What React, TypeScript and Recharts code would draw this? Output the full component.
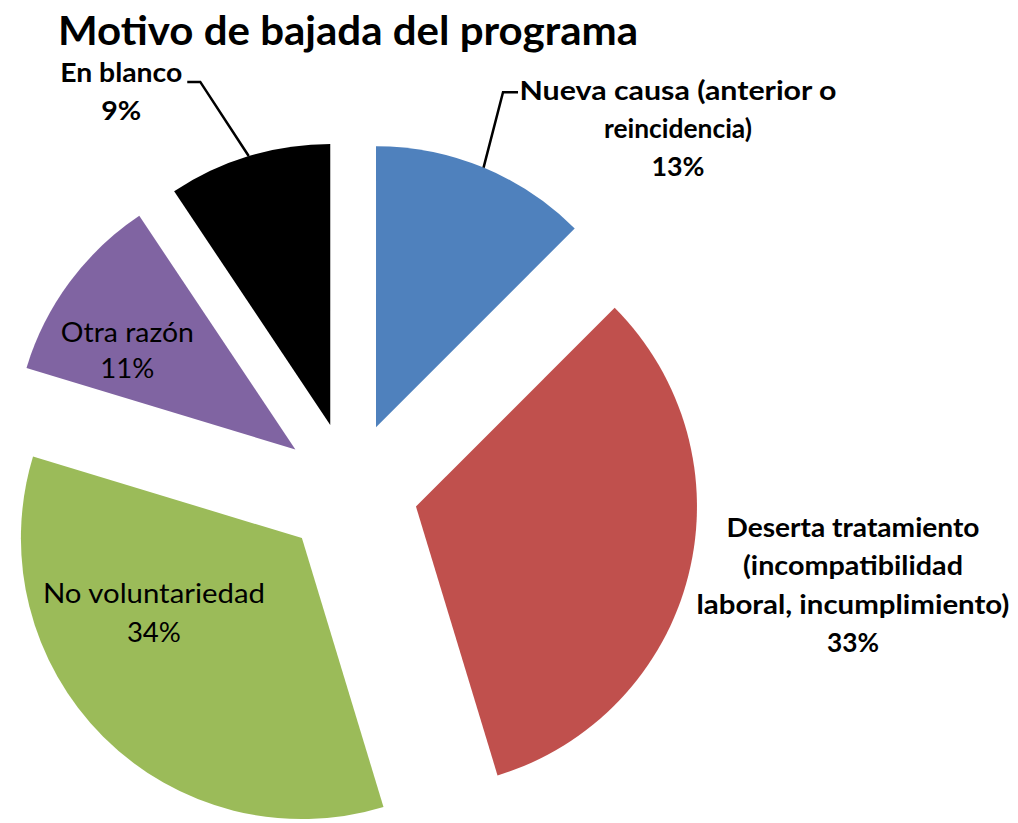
import React from "react";
import { PieChart, Pie, Cell } from "recharts";

// ---------- data ----------
const categories = [
  "Nueva causa (anterior o reincidencia)",
  "Deserta tratamiento (incompatibilidad laboral, incumplimiento)",
  "No voluntariedad",
  "Otra razón",
  "En blanco",
];
const labelLines = [
  ["Nueva causa (anterior o", "reincidencia)"],
  ["Deserta tratamiento", "(incompatibilidad", "laboral, incumplimiento)"],
  ["No voluntariedad"],
  ["Otra razón"],
  ["En blanco"],
];
const counts = [8, 21, 22, 7, 6];
const colors = ["#4F81BD", "#C0504D", "#9BBB59", "#8064A2", "#000000"];
const title = "Motivo de bajada del programa";

const data = categories.map((name, i) => ({ name, value: counts[i] }));

// ---------- layout ----------
const W = 1018;
const H = 823;
const CENTER = { x: 350, y: 490 };
const RADIUS = 281;
const EXPLODE = 68;
const FONT = "Lato, 'Open Sans', sans-serif";
const RAD = Math.PI / 180;

const total = counts.reduce((a, b) => a + b, 0);
// mid angle of each slice, clockwise from 12 o'clock, degrees
const midAngles = counts.map((c, i) => {
  const before = counts.slice(0, i).reduce((a, b) => a + b, 0);
  return ((before + c / 2) / total) * 360;
});
const apexes = midAngles.map((m) => ({
  x: CENTER.x + EXPLODE * Math.sin(m * RAD),
  y: CENTER.y - EXPLODE * Math.cos(m * RAD),
}));

type LabelStyle = {
  dx: number;
  dy: number;
  lineHeight: number;
  bold: boolean;
  widths: number[];
  leader?: { elbow: [number, number]; end: [number, number] };
};
const labelLayout: LabelStyle[] = [
  { dx: 302, dy: -327, lineHeight: 38, bold: true, widths: [317, 148, 53], leader: { elbow: [127, -335], end: [142, -335] } },
  { dx: 437, dy: 30.5, lineHeight: 38.3, bold: true, widths: [253, 220, 313, 52] },
  { dx: -148, dy: 65, lineHeight: 39, bold: false, widths: [222, 54] },
  { dx: -168, dy: -107.5, lineHeight: 36, bold: false, widths: [133, 54] },
  { dx: -209, dy: -343, lineHeight: 38, bold: true, widths: [122, 40], leader: { elbow: [-130, -343], end: [-143, -343] } },
];

const makeLabel = (i: number) => (props: any) => {
  if (props.index !== i) return null;
  const cx = typeof props.cx === "number" ? props.cx : apexes[i].x;
  const cy = typeof props.cy === "number" ? props.cy : apexes[i].y;
  const r = typeof props.outerRadius === "number" ? props.outerRadius : RADIUS;
  const mid = typeof props.midAngle === "number" ? props.midAngle : 90 - midAngles[i];
  const L = labelLayout[i];
  const pct = `${Math.round((counts[i] / total) * 100)}%`;
  const lines = [...labelLines[i], pct];
  const x = cx + L.dx;
  const y0 = cy + L.dy;
  const arcX = cx + Math.cos(-mid * RAD) * r;
  const arcY = cy + Math.sin(-mid * RAD) * r;
  return (
    <g>
      {L.leader && (
        <polyline
          points={`${arcX},${arcY} ${cx + L.leader.elbow[0]},${cy + L.leader.elbow[1]} ${cx + L.leader.end[0]},${cy + L.leader.end[1]}`}
          fill="none"
          stroke="#000"
          strokeWidth={2.5}
        />
      )}
      {lines.map((t, k) => (
        <text
          key={k}
          x={x}
          y={y0 + k * L.lineHeight}
          textAnchor="middle"
          fontFamily={FONT}
          fontWeight={L.bold ? 700 : 400}
          fontSize={27}
          fill="#000"
          textLength={L.widths[k]}
          lengthAdjust="spacingAndGlyphs"
        >
          {t}
        </text>
      ))}
    </g>
  );
};

export default function App() {
  return (
    <div style={{ position: "absolute", left: 0, top: 0, width: W, height: H, background: "#fff" }}>
      <PieChart width={W} height={H} margin={{ top: 0, right: 0, bottom: 0, left: 0 }}>
        {data.map((_, i) => (
          <Pie
            key={i}
            data={data}
            dataKey="value"
            nameKey="name"
            cx={apexes[i].x}
            cy={apexes[i].y}
            innerRadius={0}
            outerRadius={RADIUS}
            startAngle={90}
            endAngle={-270}
            stroke="none"
            isAnimationActive={false}
            labelLine={false}
            label={makeLabel(i)}
          >
            {data.map((__, j) => (
              <Cell key={j} fill={j === i ? colors[j] : "none"} stroke="none" />
            ))}
          </Pie>
        ))}
      </PieChart>
      <svg width={W} height={70} style={{ position: "absolute", left: 0, top: 0 }}>
        <text
          x={58}
          y={45}
          fontFamily={FONT}
          fontWeight={700}
          fontSize={40}
          fill="#000"
          textLength={580}
          lengthAdjust="spacingAndGlyphs"
        >
          {title}
        </text>
      </svg>
    </div>
  );
}
